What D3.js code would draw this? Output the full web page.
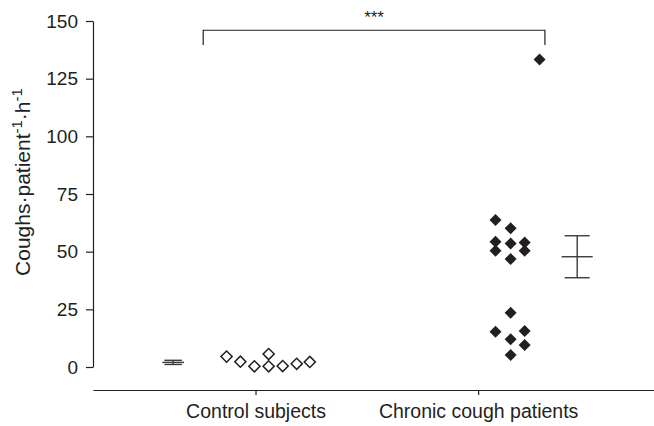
<!DOCTYPE html>
<html>
<head>
<meta charset="utf-8">
<script src="https://cdn.jsdelivr.net/npm/d3@7"></script>
<style>
  body { margin: 0; background: #fff; }
  text { font-family: "Liberation Sans", Arial, sans-serif; fill: #231f20; }
</style>
</head>
<body>
<div id="chart"></div>
<script>
// groups and their x positions (category units)
const groups = ["Control subjects", "Chronic cough patients"];
const groupPos = [1, 2];

// control subjects: values and horizontal jitter (category units)
const controlValues = [4.5, 2.3, 0.3, 5.6, 0.3, 0.4, 1.4, 2.2];
const controlJitter = [-0.13, -0.068, -0.005, 0.059, 0.059, 0.122, 0.185, 0.244];

// chronic cough patients
const chronicValues = [63.7, 60.1, 54.3, 53.5, 54.0, 50.4, 50.4, 46.8, 23.5, 15.3, 15.6, 12.0, 9.5, 5.2, 133.3];
const chronicJitter = [0.078, 0.146, 0.078, 0.146, 0.209, 0.078, 0.209, 0.146, 0.146, 0.078, 0.209, 0.146, 0.209, 0.146, 0.276];

// mean +/- SEM
const means = [2.0, 47.8];
const sems = [0.9, 9.1];
const meanOffset = [-0.37, 0.445];

const yTicks = [0, 25, 50, 75, 100, 125, 150];

const width = 654;
const height = 426;

const svg = d3.select('#chart')
    .append('svg')
    .attr('width', width)
    .attr('height', height)

const x = d3.scaleLinear().domain([0.27, 2.79]).range([93, 654]);
const y = d3.scaleLinear().domain([0, 150]).range([367, 21]);

const ink = "#231f20";

// y axis
const yAxis = svg.append('g')
    .attr('transform', 'translate(93,0)')
    .call(d3.axisLeft(y).tickValues(yTicks).tickSize(7).tickSizeOuter(0).tickPadding(8))
yAxis.select('.domain').attr('stroke', ink).attr('stroke-width', 1.2)
yAxis.selectAll('.tick line').attr('stroke', ink).attr('stroke-width', 1.2)
yAxis.selectAll('.tick text')
    .style('font-size', '19px')
    .style('font-family', '"Liberation Sans", Arial, sans-serif')
    .attr('fill', ink)

// x axis
const xAxis = svg.append('g')
    .attr('transform', 'translate(0,390)')
    .call(d3.axisBottom(x).tickValues(groupPos).tickFormat((d, i) => groups[i]).tickSize(5).tickSizeOuter(0).tickPadding(9))
xAxis.select('.domain').attr('stroke', ink).attr('stroke-width', 1.2)
xAxis.selectAll('.tick line').attr('stroke', ink).attr('stroke-width', 1.2)
xAxis.selectAll('.tick text')
    .style('font-size', '19.5px')
    .style('font-family', '"Liberation Sans", Arial, sans-serif')
    .attr('fill', ink)

// y label
const ylab = svg.append('text')
    .attr('transform', 'translate(30,182) rotate(-90)')
    .attr('text-anchor', 'middle')
    .style('font-size', '21px')
ylab.append('tspan').text('Coughs·patient')
ylab.append('tspan').text('-1').attr('dy', -8).style('font-size', '15px')
ylab.append('tspan').text('·h').attr('dy', 8)
ylab.append('tspan').text('-1').attr('dy', -8).style('font-size', '15px')

// diamonds
const controlData = controlValues.map((v, i) => ({ v: v, p: groupPos[0] + controlJitter[i] }));
const chronicData = chronicValues.map((v, i) => ({ v: v, p: groupPos[1] + chronicJitter[i] }));

svg.append('g').selectAll('path')
    .data(controlData)
    .enter()
    .append('path')
    .attr('d', d3.symbol().type(d3.symbolSquare).size(62))
    .attr('transform', d => "translate(" + x(d.p) + "," + y(d.v) + ") rotate(45)")
    .attr('fill', 'white')
    .attr('stroke', ink)
    .attr('stroke-width', 1.5)

svg.append('g').selectAll('path')
    .data(chronicData)
    .enter()
    .append('path')
    .attr('d', d3.symbol().type(d3.symbolSquare).size(72))
    .attr('transform', d => "translate(" + x(d.p) + "," + y(d.v) + ") rotate(45)")
    .attr('fill', ink)

// mean and SEM bars
const bars = svg.append('g')
    .attr('stroke', '#3a3a3a')
    .attr('stroke-width', 1.4)
means.forEach((m, i) => {
    const cx = x(groupPos[i] + meanOffset[i]);
    const scale = i === 0 ? 0.7 : 1;
    bars.append('line')
        .attr('x1', cx - 15.5 * scale).attr('x2', cx + 15.5 * scale)
        .attr('y1', y(m)).attr('y2', y(m))
    ;[m - sems[i], m + sems[i]].forEach(e => {
        bars.append('line')
            .attr('x1', cx - 12.5 * scale).attr('x2', cx + 12.5 * scale)
            .attr('y1', y(e)).attr('y2', y(e))
    })
    bars.append('line')
        .attr('x1', cx).attr('x2', cx)
        .attr('y1', y(m - sems[i])).attr('y2', y(m + sems[i]))
})

// significance bracket
const bracketX = [0.765, 2.3];
const bracketY = [146, 139.6];
svg.append('path')
    .attr('d', d3.line()([
        [x(bracketX[0]), y(bracketY[1])],
        [x(bracketX[0]), y(bracketY[0])],
        [x(bracketX[1]), y(bracketY[0])],
        [x(bracketX[1]), y(bracketY[1])]
    ]))
    .attr('fill', 'none')
    .attr('stroke', ink)
    .attr('stroke-width', 1.2)

svg.append('text')
    .attr('x', x((bracketX[0] + bracketX[1]) / 2))
    .attr('y', 23)
    .attr('text-anchor', 'middle')
    .style('font-size', '17px')
    .text('***')
</script>
</body>
</html>
